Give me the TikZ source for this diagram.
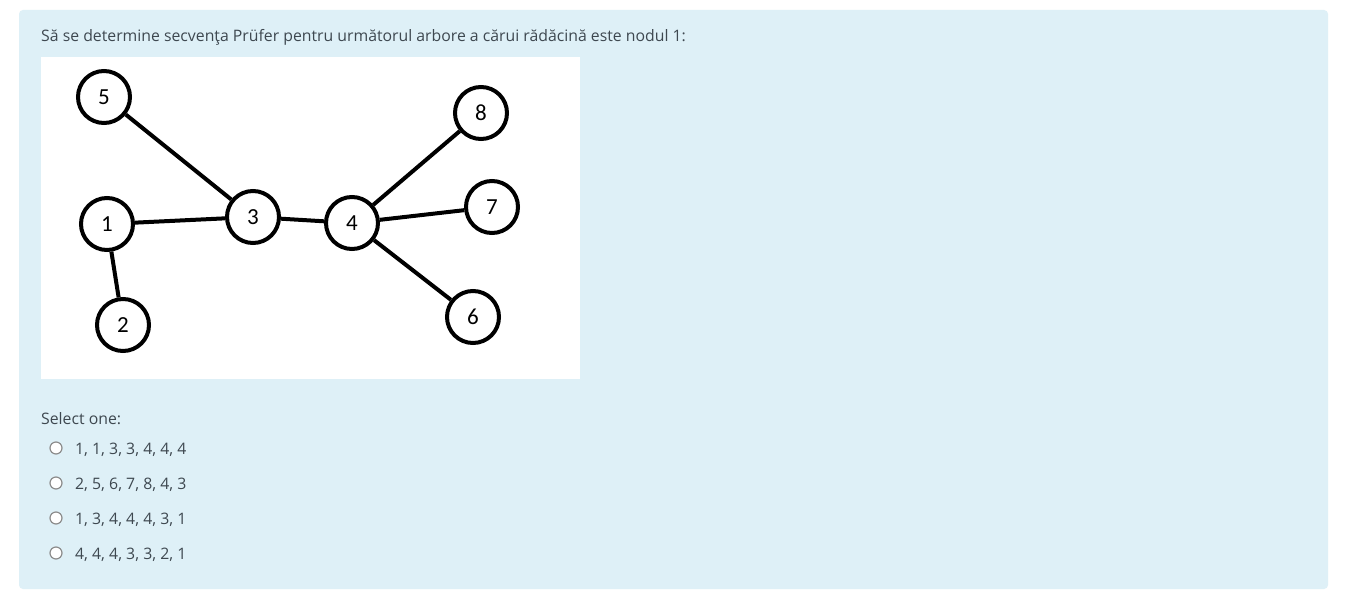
\documentclass[tikz,border=0pt]{standalone}
\usepackage{fontspec}
\setmainfont{Open Sans}
\newfontfamily\nodefont{Carlito}
\definecolor{panel}{RGB}{222,240,247}
\definecolor{txt}{RGB}{62,72,80}
\definecolor{radio}{RGB}{140,140,140}
\tikzset{
  vert/.style={circle, draw=black, line width=4pt, fill=white, minimum size=52pt, inner sep=0pt, font=\nodefont\fontsize{23}{25}\selectfont},
  edge/.style={line width=4pt, black},
  qtext/.style={anchor=base west, inner sep=0pt, text=txt, font=\fontsize{15.8}{18}\selectfont},
  radiobtn/.style={circle, draw=radio, line width=1.2pt, fill=white, minimum size=12pt, inner sep=0pt}
}
\begin{document}
\begin{tikzpicture}[x=1pt,y=-1pt]
\useasboundingbox (0,0) rectangle (1348,604);
\fill[white] (0,0) rectangle (1348,604);
\fill[panel, rounded corners=4pt] (19,10) rectangle (1328,589);
\node[qtext] (title) at (41,42) {Să se determine secvenţa Prüfer pentru următorul arbore a cărui rădăcină este nodul 1:};
\fill[white] (41,57) rectangle (580,379);
\node[vert] (n5) at (104,97) {5};
\node[vert] (n1) at (107,224) {1};
\node[vert] (n3) at (253,217) {3};
\node[vert] (n2) at (123,325) {2};
\node[vert] (n4) at (352,223) {4};
\node[vert] (n8) at (481,113) {8};
\node[vert] (n7) at (492,207) {7};
\node[vert] (n6) at (473,317) {6};
\draw[edge] (n5) -- (n3);
\draw[edge] (n1) -- (n3);
\draw[edge] (n1) -- (n2);
\draw[edge] (n3) -- (n4);
\draw[edge] (n4) -- (n8);
\draw[edge] (n4) -- (n7);
\draw[edge] (n4) -- (n6);
\node[qtext] (sel) at (41,424) {Select one:};
\node[radiobtn] (r1) at (56,448) {};
\node[qtext] (o1) at (75,454) {1, 1, 3, 3, 4, 4, 4};
\node[radiobtn] (r2) at (56,483) {};
\node[qtext] (o2) at (75,489) {2, 5, 6, 7, 8, 4, 3};
\node[radiobtn] (r3) at (56,518) {};
\node[qtext] (o3) at (75,524) {1, 3, 4, 4, 4, 3, 1};
\node[radiobtn] (r4) at (56,553) {};
\node[qtext] (o4) at (75,559) {4, 4, 4, 3, 3, 2, 1};
\end{tikzpicture}
\end{document}
